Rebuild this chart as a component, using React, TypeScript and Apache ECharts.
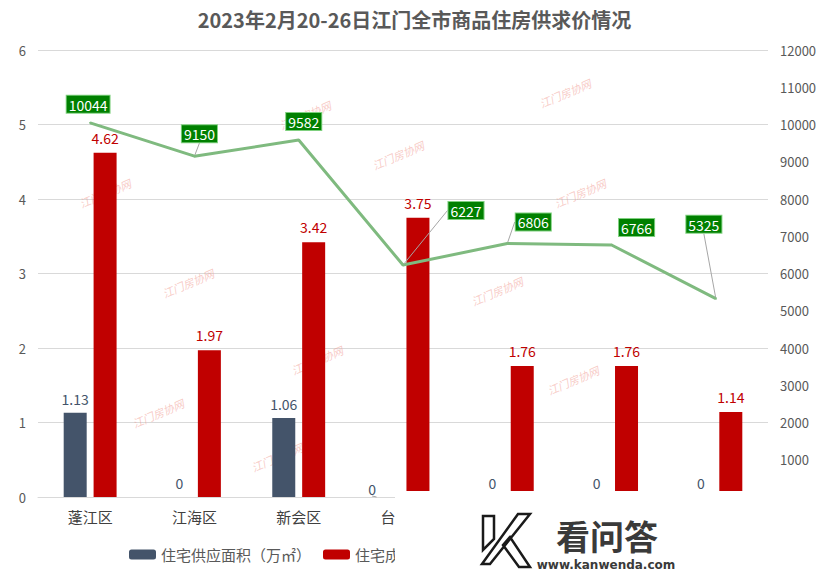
import React, { useEffect, useRef } from "react";
import * as echarts from "echarts";

const categories = ["蓬江区", "江海区", "新会区", "台山市", "开平市", "鹤山市", "恩平市"];
const supplyArea = [1.13, 0, 1.06, 0, 0, 0, 0];
const dealArea = [4.62, 1.97, 3.42, 3.75, 1.76, 1.76, 1.14];
const avgPrice = [10044, 9150, 9582, 6227, 6806, 6766, 5325];
const seriesNames = ["住宅供应面积（万㎡）", "住宅成交面积（万㎡）", "成交均价（元/㎡）"];
const titleText = "2023年2月20-26日江门全市商品住房供求价情况";

// label layout only
const priceLabelShift = [[-2, -4], [5, -8], [5, -4], [63, -40], [26, -7], [25, -3], [-12, -60]];
const priceGuideIdx = [1, 3, 4, 6];
const supplyGuideIdx = [3];
const watermarkSpots = [[565, 93], [398, 155], [580, 193], [497, 291], [573, 380], [105, 193], [188, 283], [317, 360], [158, 413], [277, 457], [305, 115]];

const K_PATH = "M2 4 L13 4 L13 27 L2 38 Z M37 2 L49 2 L9 52 L1 52 Z M22 33 L29 25 L49 55 L38 55 Z";

export default function App() {
  const ref = useRef<HTMLDivElement>(null);
  useEffect(() => {
    if (!ref.current) return;
    try {
      echarts.graphic.registerShape("klogo", echarts.graphic.extendPath(K_PATH, {}));
    } catch (e) {}
    const chart = echarts.init(ref.current, null, { renderer: "svg" });
    const font = "'Noto Sans CJK SC', 'Noto Sans', sans-serif";
    const guide = { show: true, lineStyle: { color: "#a6a6a6", width: 1 } };
    const graphics: any[] = watermarkSpots.map(([x, y]) => ({
      type: "text",
      x,
      y,
      rotation: 0.4,
      z: 1,
      style: {
        text: "江门房协网",
        fill: "rgba(240,150,140,0.5)",
        font: "italic 11px 'Noto Sans CJK SC', serif",
        textAlign: "center",
        textVerticalAlign: "middle",
      },
    }));
    graphics.push(
      { type: "rect", x: 395, y: 491, z: 100, shape: { width: 434, height: 84 }, style: { fill: "#ffffff" } },
      { type: "klogo", x: 481, y: 512, z: 101, scaleX: 1, scaleY: 1, style: { fill: "#ffffff", stroke: "#1a1a1a", lineWidth: 2.5 } },
      {
        type: "text", x: 607, y: 535, z: 101,
        style: { text: "看问答", fill: "#3a3a3a", font: "bold 34px 'Noto Sans CJK SC'", textAlign: "center", textVerticalAlign: "middle" },
      },
      {
        type: "text", x: 606, y: 565, z: 101,
        style: { text: "www.kanwenda.com", fill: "#3a3a3a", font: "bold 12px 'DejaVu Sans'", textAlign: "center", textVerticalAlign: "middle" },
      }
    );
    chart.setOption({
      animation: false,
      backgroundColor: "#ffffff",
      textStyle: { fontFamily: font },
      title: {
        text: titleText,
        left: "center",
        top: 4,
        textStyle: { fontSize: 20, fontWeight: "bold", color: "#595959", fontFamily: font },
      },
      legend: {
        data: seriesNames,
        left: 124,
        top: 542,
        itemWidth: 27,
        itemHeight: 10,
        itemGap: 12,
        textStyle: { fontSize: 15, color: "#595959" },
      },
      grid: { left: 38, right: 61, top: 50, bottom: 78 },
      xAxis: {
        type: "category",
        data: categories,
        axisTick: { show: false },
        axisLine: { lineStyle: { color: "#d9d9d9" } },
        axisLabel: { fontSize: 15, color: "#404040", margin: 12 },
      },
      yAxis: [
        {
          type: "value",
          min: 0,
          max: 6,
          interval: 1,
          axisLine: { show: false },
          axisTick: { show: false },
          splitLine: { lineStyle: { color: "#d9d9d9" } },
          axisLabel: { fontSize: 13, color: "#595959", margin: 12 },
        },
        {
          type: "value",
          min: 0,
          max: 12000,
          interval: 1000,
          axisLine: { show: false },
          axisTick: { show: false },
          splitLine: { show: false },
          axisLabel: { fontSize: 13, color: "#595959", margin: 12, formatter: (v: number) => String(v) },
        },
      ],
      graphic: { elements: graphics },
      series: [
        {
          name: seriesNames[0],
          type: "bar",
          data: supplyArea.map((v, i) => (supplyGuideIdx.includes(i) ? { value: v, labelLine: guide } : v)),
          barWidth: 23,
          barGap: "30%",
          itemStyle: { color: "#44546a" },
          label: { show: true, position: "top", distance: 7, color: "#44546a", fontSize: 14 },
          labelLine: { show: false },
          labelLayout: (p: any) => (p.dataIndex === 3 ? { dx: -16, dy: 6 } : {}),
        },
        {
          name: seriesNames[1],
          type: "bar",
          data: dealArea,
          barWidth: 23,
          itemStyle: { color: "#c00000" },
          label: { show: true, position: "top", distance: 8, color: "#c00000", fontSize: 14 },
        },
        {
          name: seriesNames[2],
          type: "line",
          yAxisIndex: 1,
          data: avgPrice.map((v, i) => (priceGuideIdx.includes(i) ? { value: v, labelLine: guide } : v)),
          symbol: "circle",
          symbolSize: 2,
          z: 5,
          itemStyle: { color: "#7fba7f" },
          lineStyle: { color: "#7fba7f", width: 3 },
          label: {
            show: true,
            position: "top",
            distance: 5,
            color: "#ffffff",
            fontSize: 14,
            backgroundColor: "#008000",
            borderColor: "#7fd07f",
            borderWidth: 1,
            padding: [2, 2, 1, 2],
          },
          labelLine: { show: false },
          labelLayout: (p: any) => {
            const s = priceLabelShift[p.dataIndex] || [0, 0];
            return { dx: s[0], dy: s[1] };
          },
        },
      ],
    });
    return () => chart.dispose();
  }, []);
  return <div ref={ref} style={{ width: 829, height: 575, position: "absolute", left: 0, top: 0 }} />;
}
